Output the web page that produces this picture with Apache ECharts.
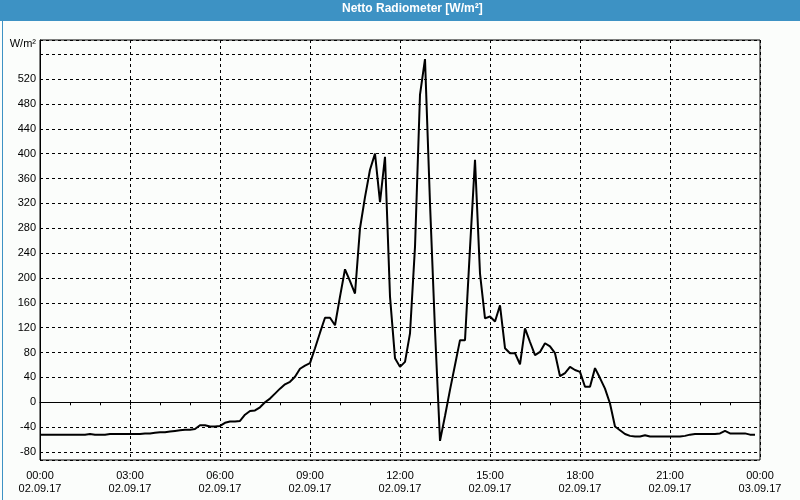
<!DOCTYPE html>
<html>
<head>
<meta charset="utf-8">
<script src="https://cdn.jsdelivr.net/npm/echarts@6/dist/echarts.min.js"></script>
<style>
html,body{margin:0;padding:0;background:#fbfdfb;}
#chart{width:800px;height:500px;}
</style>
</head>
<body>
<div id="chart"></div>
<script>
// Netto Radiometer readings, 10-minute samples from 02.09.17 00:00
const startDate = '02.09.17';
const endDate = '03.09.17';
const sampleMinutes = 10;
const values = [
  -52, -52, -52, -52, -52, -52, -52, -52, -52, -52,
  -51, -52, -52, -52, -51, -51, -51, -51, -51, -51,
  -51, -50, -50, -49, -48, -48, -47, -46, -45, -44,
  -44, -43, -37, -37, -39, -39, -38, -33, -31, -31,
  -30, -20, -14, -13, -8, 0, 6, 14, 22, 29,
  33, 41, 54, 59, 63, 87, 112, 136, 136, 124,
  170, 214, 195, 175, 280, 330, 374, 400, 322, 395,
  170, 71, 57, 65, 111, 250, 495, 552, 320, 116,
  -62, -22, 20, 60, 100, 100, 248, 390, 207, 135,
  138, 130, 156, 87, 79, 79, 61, 119, 97, 76,
  81, 95, 90, 79, 42, 47, 57, 52, 49, 25,
  25, 55, 39, 22, -2, -39, -45, -51, -54, -55,
  -55, -53, -55, -55, -55, -55, -55, -55, -55, -54,
  -52, -51, -51, -51, -51, -51, -50, -46, -50, -50,
  -50, -50, -52, -52
];
const yTicks = [-80, -40, 0, 40, 80, 120, 160, 200, 240, 280, 320, 360, 400, 440, 480, 520];
const yMin = -92.8, yMax = 582.8;

const seriesData = values.map((v, i) => [i * sampleMinutes, v]);

function fmtTime(m) {
  const h = Math.floor(m / 60) % 24, mm = m % 60;
  const date = m >= 1440 ? endDate : startDate;
  return String(h).padStart(2, '0') + ':' + String(mm).padStart(2, '0') + '\n' + date;
}

const chart = echarts.init(document.getElementById('chart'), null, {renderer: 'canvas'});
const font = '"Liberation Sans", Arial, sans-serif';
chart.setOption({
  animation: false,
  backgroundColor: '#fbfdfb',
  graphic: [
    {type: 'rect', left: 0, top: 0, shape: {width: 800, height: 21}, style: {fill: '#3d92c4'}, z: 0},
    {type: 'rect', left: 0, top: 0, shape: {x: 0.5, y: 0.5, width: 799, height: 499}, style: {fill: 'none', stroke: '#3d92c4', lineWidth: 1}, z: 0}
  ],
  title: {
    text: 'Netto Radiometer [W/m²]',
    left: 342, top: 3,
    padding: 0,
    textStyle: {color: '#ffffff', fontSize: 12, fontWeight: 'bold', fontFamily: font}
  },
  grid: {
    left: 40, top: 40, width: 720, height: 420,
    show: true, borderColor: '#000', borderWidth: 1, backgroundColor: 'transparent'
  },
  xAxis: {
    type: 'value',
    min: 0, max: 1440, interval: 180,
    axisLine: {show: true, lineStyle: {color: '#000', width: 1}},
    axisTick: {show: true, length: 3, lineStyle: {color: '#000'}},
    minorTick: {show: true, splitNumber: 3, length: 3, lineStyle: {color: '#000'}},
    axisLabel: {
      formatter: fmtTime, color: '#000', fontSize: 11, fontFamily: font,
      lineHeight: 13, margin: 9, showMinLabel: true, showMaxLabel: true
    },
    splitLine: {show: true, lineStyle: {color: '#000', type: [3, 3], width: 1}}
  },
  yAxis: {
    type: 'value',
    min: yMin, max: yMax,
    minInterval: 40, maxInterval: 40,
    name: 'W/m²',
    nameLocation: 'end',
    nameGap: -4,
    nameTextStyle: {color: '#000', fontSize: 11, fontFamily: font, align: 'right', verticalAlign: 'middle', padding: [0, 4, 0, 0]},
    axisLine: {show: true, lineStyle: {color: '#000'}},
    axisTick: {show: false},
    axisLabel: {
      color: '#000', fontSize: 11, fontFamily: font, margin: 4,
      formatter: v => (yTicks.indexOf(Math.round(v * 10) / 10) >= 0 ? String(v) : '')
    },
    splitLine: {show: true, lineStyle: {color: '#000', type: [3, 3], width: 1}}
  },
  series: [{
    type: 'line',
    data: seriesData,
    showSymbol: false,
    symbol: 'none',
    lineStyle: {color: '#000', width: 2},
    clip: true
  }]
});
</script>
</body>
</html>
